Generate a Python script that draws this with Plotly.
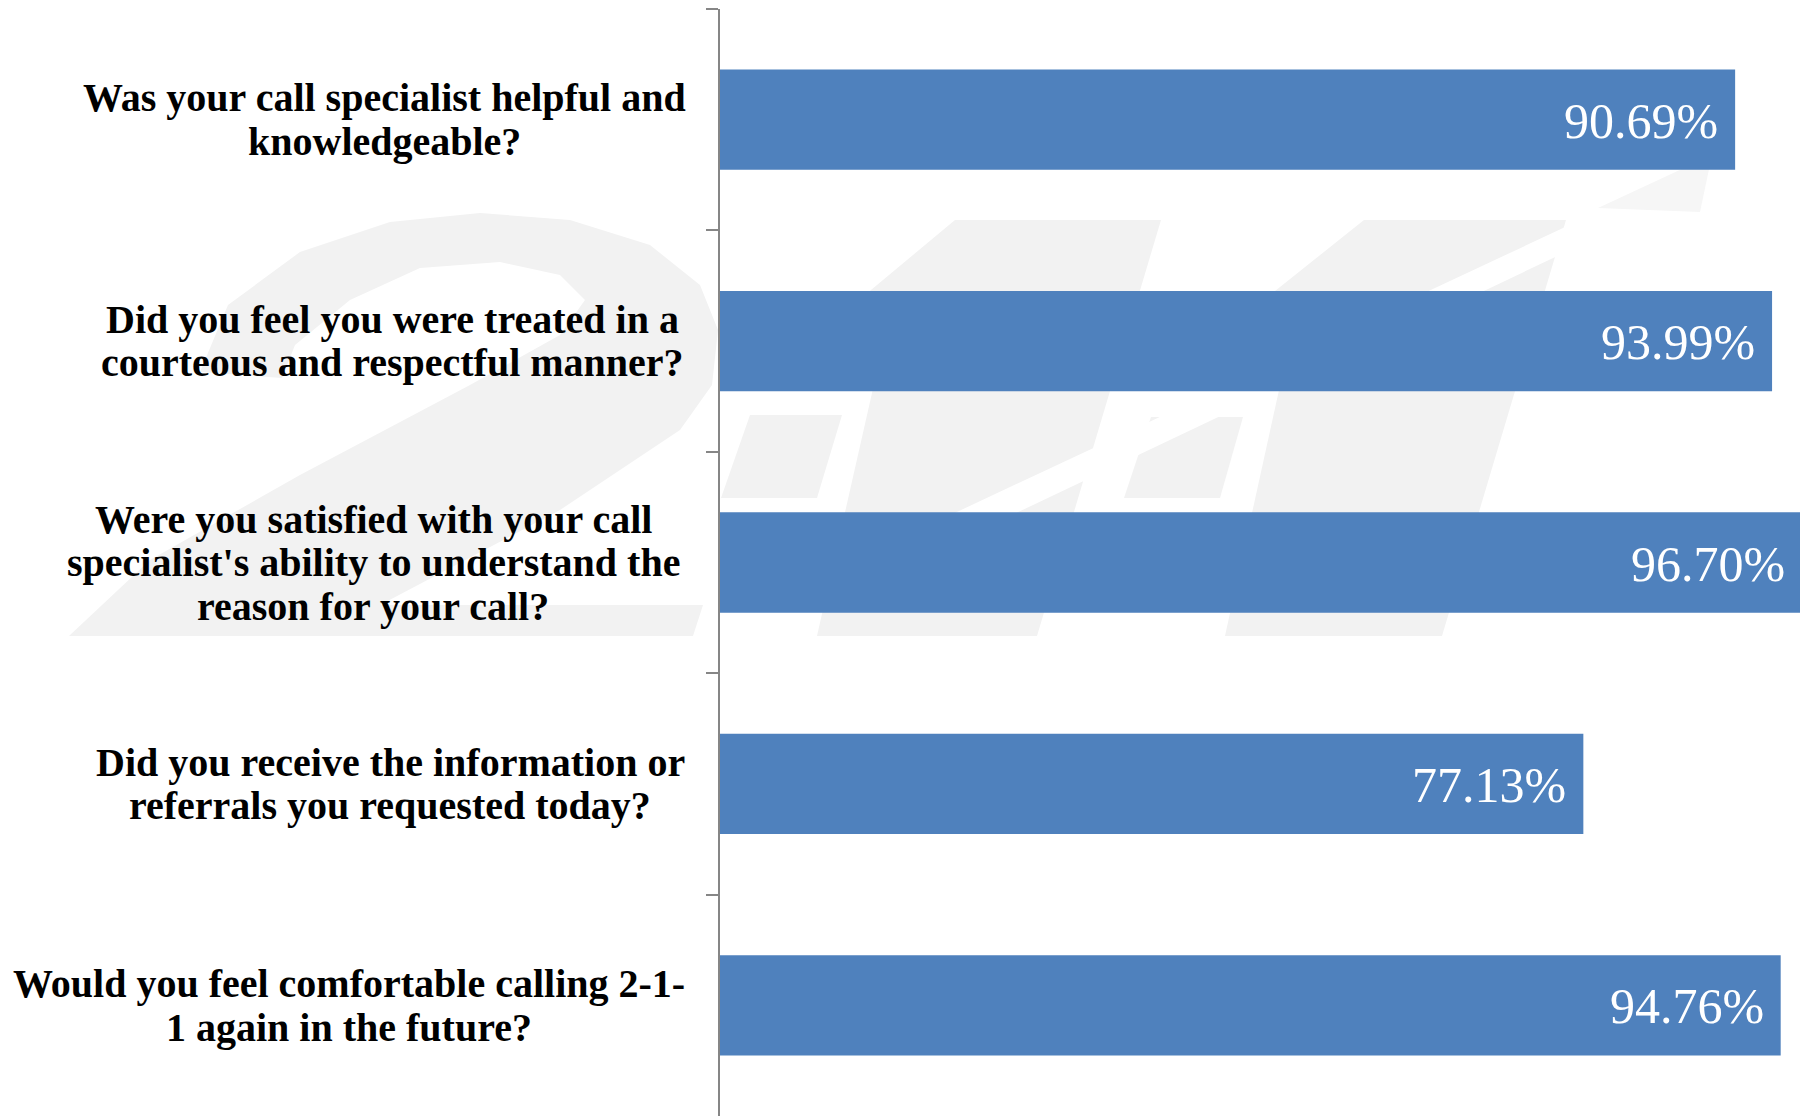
import plotly.graph_objects as go

# ---------------- data ----------------
questions = [
    "Was your call specialist helpful and<br>knowledgeable?",
    "Did you feel you were treated in a<br>courteous and respectful manner?",
    "Were you satisfied with your call<br>specialist's ability to understand the<br>reason for your call?",
    "Did you receive the information or<br>referrals you requested today?",
    "Would you feel comfortable calling 2-1-<br>1 again in the future?",
]
values = [90.69, 93.99, 96.70, 77.13, 94.76]
value_labels = ["90.69%", "93.99%", "96.70%", "77.13%", "94.76%"]

# ---------------- layout constants ----------------
OFF = 8                      # default page body margin
W, H = 1808 - OFF, 1116 - OFF
PX0, PX1, PY0, PY1 = 720, 1808, 9, 1116   # plot area in window pixels
L, R, T, B = PX0 - OFF, 0, PY0 - OFF, 0
BLUE = "#4f81bd"
WM = "#f2f2f2"
label_centers_px = [384, 392, 373, 390, 349]   # horizontal centre of each label block (window px)
LINE_SP = 43.5

def P(x, y):
    return (x - PX0) / (PX1 - PX0), (PY1 - y) / (PY1 - PY0)

def path(pts):
    s = ""
    for i, (x, y) in enumerate(pts):
        px, py = P(x, y)
        s += ("M" if i == 0 else "L") + f"{px:.5f},{py:.5f} "
    return s + "Z"

fig = go.Figure()
fig.add_trace(go.Bar(
    y=questions, x=values, orientation="h",
    marker=dict(color=BLUE, line=dict(width=0)),
    hoverinfo="skip",
))

# ---------------- watermark (faint 2-1-1 logo) ----------------
shapes = []
two = [(200, 372), (228, 305), (300, 252), (390, 222), (480, 213), (570, 220), (650, 245),
       (700, 285), (718, 330), (712, 385), (680, 430), (560, 510), (380, 605), (703, 605),
       (693, 636), (69, 636), (150, 560), (300, 475), (470, 385), (560, 335), (585, 300),
       (560, 275), (500, 262), (420, 268), (350, 300), (295, 345), (282, 378)]
wm_polys = [
    two,
    # first dash
    [(750, 415), (842, 415), (817, 498), (721, 498)],
    # first "1"
    [(955, 220), (1161, 220), (1037, 636), (817, 636), (884, 340), (865, 295)],
    # second dash
    [(1151, 417), (1243, 417), (1220, 498), (1124, 498)],
    # second "1"
    [(1364, 220), (1566, 220), (1442, 636), (1225, 636), (1290, 340), (1270, 295)],
]
for poly in wm_polys:
    shapes.append(dict(type="path", path=path(poly), xref="paper", yref="paper",
                       fillcolor=WM, line=dict(width=0), layer="below"))
# white arrow stripe through the logo
stripe = [(880, 548), (1640, 192), (1650, 212), (892, 572)]
shapes.append(dict(type="path", path=path(stripe), xref="paper", yref="paper",
                   fillcolor="white", line=dict(width=0), layer="below"))
# arrow head
head = [(1598, 208), (1712, 155), (1700, 212)]
shapes.append(dict(type="path", path=path(head), xref="paper", yref="paper",
                   fillcolor="#f6f6f6", line=dict(width=0), layer="below"))

# ---------------- annotations ----------------
annotations = []
for q, cx in zip(questions, label_centers_px):
    lines = q.split("<br>")
    n = len(lines)
    for i, line in enumerate(lines):
        off = ((n - 1) / 2 - i) * LINE_SP
        annotations.append(dict(
            text=line, x=P(cx, 0)[0], xref="paper", y=q, yref="y",
            xanchor="center", yanchor="middle", yshift=off, showarrow=False,
            font=dict(family="Liberation Serif", size=40, color="black", weight="bold"),
        ))
for q, v, t in zip(questions, values, value_labels):
    annotations.append(dict(
        text=t, x=v, xref="x", y=q, yref="y", xanchor="right", yanchor="middle",
        xshift=-15, yshift=-1, showarrow=False,
        font=dict(family="Liberation Serif", size=50, color="white"),
    ))

fig.update_layout(
    width=W, height=H,
    margin=dict(l=L, r=R, t=T, b=B, pad=0),
    paper_bgcolor="white", plot_bgcolor="rgba(0,0,0,0)",
    bargap=0.547, showlegend=False,
    shapes=shapes, annotations=annotations,
    xaxis=dict(range=[0, 97.2], visible=False, showgrid=False, zeroline=False),
    yaxis=dict(autorange="reversed", showticklabels=False, showgrid=False, zeroline=False,
               showline=True, linecolor="#868686", linewidth=2,
               ticks="outside", tickson="boundaries", ticklen=12, tickwidth=2, tickcolor="#868686"),
)

fig.write_html("out.html")
